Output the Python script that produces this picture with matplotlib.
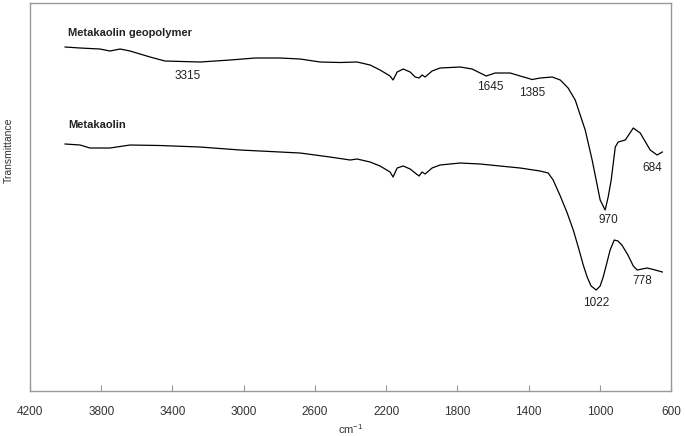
import matplotlib
matplotlib.use("Agg")
import matplotlib.pyplot as plt

plt.rcParams["font.family"] = ["Liberation Sans", "DejaVu Sans"]
plt.rcParams["mathtext.fontset"] = "custom"
plt.rcParams["mathtext.rm"] = "Liberation Sans"

# FTIR spectra (wavenumber cm-1, transmittance a.u.)
wn_geo = [4003, 3919, 3807, 3751, 3694, 3638, 3526, 3442, 3245, 3076,
          2936, 2796, 2683, 2571, 2458, 2363, 2290, 2234, 2178, 2161,
          2138, 2104, 2065, 2037, 2015, 1998, 1981, 1942, 1897, 1784,
          1717, 1672, 1638, 1588, 1503, 1447, 1380, 1335, 1267, 1222,
          1178, 1138, 1082, 1043, 998, 970, 953, 936, 913, 897,
          857, 812, 773, 717, 678, 649]
t_geo = [344, 343, 342, 340, 342, 340, 334, 330, 329, 331,
         333, 333, 332, 329, 328.5, 329, 326, 321, 315, 311,
         319, 322, 319, 314, 313, 316, 314, 320, 323, 324,
         322, 318, 315, 318, 318, 315, 311.5, 313, 314, 311,
         303, 291, 261, 231, 191, 181, 194, 211, 244, 249,
         251, 263, 258, 241, 236, 239]

wn_mk = [4003, 3919, 3863, 3751, 3638, 3470, 3245, 3020, 2683, 2515,
         2402, 2363, 2290, 2234, 2178, 2161, 2138, 2104, 2065, 2037,
         2015, 1998, 1981, 1942, 1897, 1784, 1672, 1560, 1447, 1335,
         1290, 1262, 1222, 1183, 1149, 1121, 1093, 1071, 1049, 1020,
         998, 981, 959, 942, 919, 898, 876, 842, 812, 790,
         762, 734, 689, 649]
t_mk = [247, 246, 243, 243, 246, 245.5, 244, 241, 238, 234,
        231, 232, 229, 225, 219, 214, 223, 225, 222, 218,
        215, 219, 217, 223, 226, 228, 227, 225, 223, 220,
        218, 211, 195, 178, 161, 144, 126, 114, 105, 101,
        105, 114, 129, 141, 151, 150, 146, 136, 125, 121,
        122, 123, 121, 119]

# peak labels: text, wavenumber, transmittance
peak_text = ["3315", "1645", "1385", "684", "970", "778", "1022"]
peak_wn = [3312, 1616, 1380, 706, 953, 762, 1020]
peak_t = [315, 304, 298, 223, 171, 110, 88]

fig = plt.figure(figsize=(6.85, 4.36), dpi=100)
ax = fig.add_axes([0.0438, 0.1032, 0.9358, 0.8899])

ax.plot(wn_geo, t_geo, color="black", lw=0.9)
ax.plot(wn_mk, t_mk, color="black", lw=0.9)

for s, x, y in zip(peak_text, peak_wn, peak_t):
    ax.text(x, y, s, ha="center", va="center", fontsize=8.5, color="#222222")

ax.text(3987, 358, "Metakaolin geopolymer", ha="left", va="center",
        fontsize=8, fontweight="bold", color="#222222")
ax.text(3987, 266, "Metakaolin", ha="left", va="center",
        fontsize=8, fontweight="bold", color="#222222")

ax.set_xlim(4200, 600)
ax.set_ylim(0, 388)
ax.set_xticks([4200, 3800, 3400, 3000, 2600, 2200, 1800, 1400, 1000, 600])
ax.set_yticks([])
ax.tick_params(axis="x", direction="in", length=4, width=0.8, color="#999999",
               pad=11, labelsize=8.5, labelcolor="#333333")
for sp in ax.spines.values():
    sp.set_color("#999999")
    sp.set_linewidth(1.0)

ax.set_xlabel("cm$^{-1}$", fontsize=8, color="#333333", labelpad=3)
ax.set_ylabel("Transmittance", fontsize=7.5, color="#333333")
ax.yaxis.set_label_coords(-0.025, 0.62)

fig.savefig("out.png", dpi=100)
